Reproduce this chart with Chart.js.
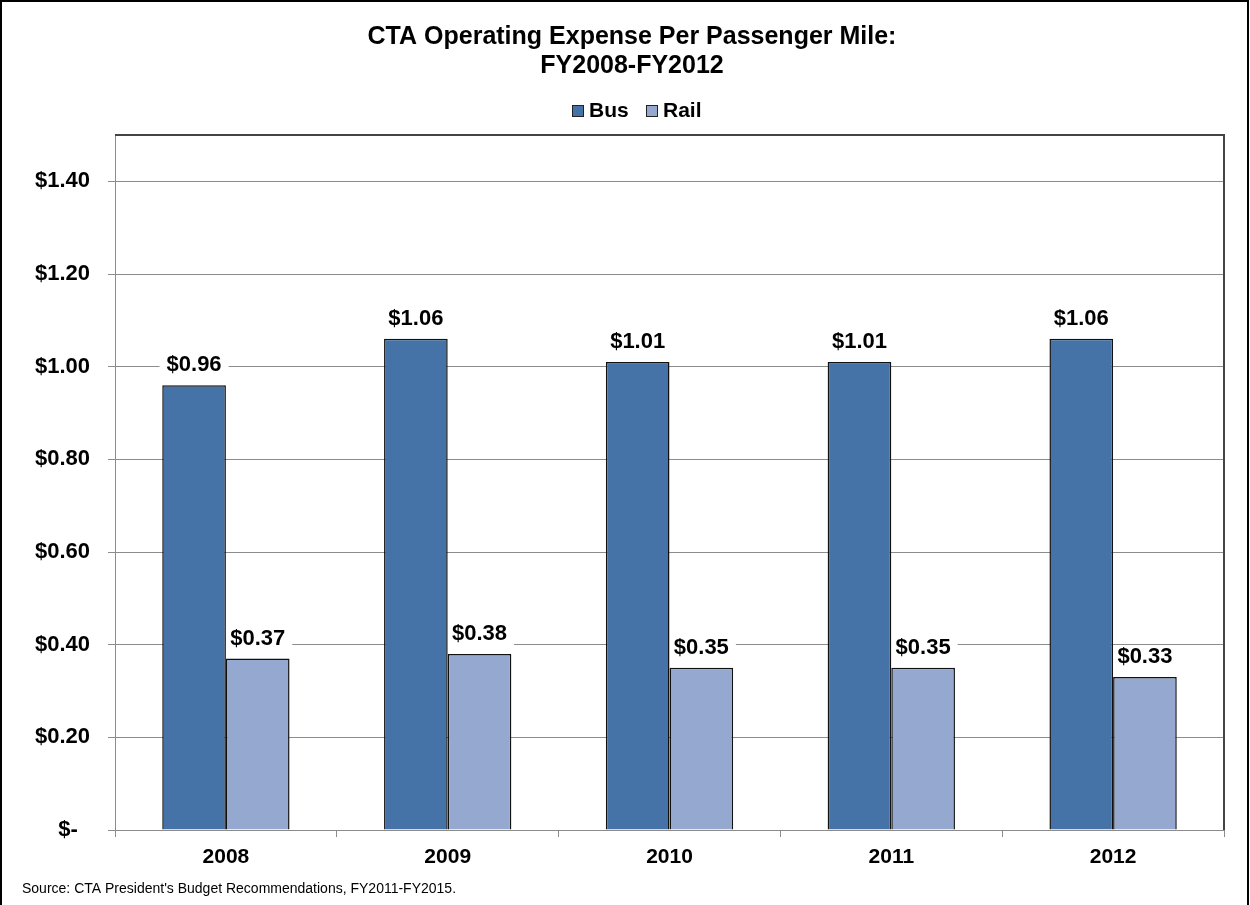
<!DOCTYPE html>
<html>
<head>
<meta charset="utf-8">
<script src="https://cdn.jsdelivr.net/npm/chart.js@4/dist/chart.umd.min.js"></script>
<style>
  html, body { margin: 0; padding: 0; background: #fff; }
  #wrap { width: 1250px; height: 905px; }
</style>
</head>
<body>
<div id="wrap"><canvas id="c" width="1250" height="905"></canvas></div>
<script>
/* CTA cost per passenger mile, FY2008-FY2012 */
const years = ['2008', '2009', '2010', '2011', '2012'];
const bus = [0.96, 1.06, 1.01, 1.01, 1.06];
const rail = [0.37, 0.38, 0.35, 0.35, 0.33];
const titleLines = ['CTA Operating Expense Per Passenger Mile:', 'FY2008-FY2012'];
const sourceNote = "Source: CTA President's Budget Recommendations, FY2011-FY2015.";

const FONT = '"Liberation Sans", Arial, sans-serif';
const BUS_COL = '#4573a7';
const RAIL_COL = '#95a9d0';
const GRID = '#8c8c8c';
const money = v => Math.abs(v) < 1e-9 ? '$-  ' : '$' + v.toFixed(2);

// title, legend, source note, outer frame, plot frame
const decor = {
  id: 'decor',
  afterDraw(chart) {
    const ctx = chart.ctx, a = chart.chartArea;
    ctx.save();
    ctx.fillStyle = '#000';
    ctx.textAlign = 'center';
    ctx.textBaseline = 'middle';
    ctx.font = 'bold 25px ' + FONT;
    ctx.fillText(titleLines[0], 632, 37);
    ctx.fillText(titleLines[1], 632, 66);

    // legend
    ctx.font = 'bold 21px ' + FONT;
    ctx.textAlign = 'left';
    const items = [['Bus', BUS_COL, 572], ['Rail', RAIL_COL, 646]];
    items.forEach(([txt, col, x]) => {
      ctx.fillStyle = col;
      ctx.fillRect(x, 105, 12, 12);
      ctx.strokeStyle = '#222';
      ctx.lineWidth = 1;
      ctx.strokeRect(x + 0.5, 105.5, 11, 11);
      ctx.fillStyle = '#000';
      ctx.fillText(txt, x + 17, 111);
    });

    ctx.font = '14px ' + FONT;
    ctx.fillText(sourceNote, 22, 889);

    // plot area top and right edges
    ctx.strokeStyle = '#444';
    ctx.lineWidth = 2;
    ctx.beginPath();
    ctx.moveTo(a.left, a.top);
    ctx.lineTo(a.right, a.top);
    ctx.lineTo(a.right, a.bottom);
    ctx.stroke();

    // outer frame
    ctx.strokeStyle = '#000';
    ctx.lineWidth = 2;
    ctx.beginPath();
    ctx.moveTo(1, 905);
    ctx.lineTo(1, 1);
    ctx.lineTo(1248, 1);
    ctx.lineTo(1248, 905);
    ctx.stroke();
    ctx.restore();
  }
};

// value labels above the bars: white patch under the bars (hides gridlines), text on top
const valueLabels = {
  id: 'valueLabels',
  each(chart, fn) {
    const ctx = chart.ctx;
    ctx.save();
    ctx.font = 'bold 22px ' + FONT;
    ctx.textAlign = 'center';
    ctx.textBaseline = 'middle';
    chart.data.datasets.forEach((ds, i) => {
      chart.getDatasetMeta(i).data.forEach((bar, j) => {
        const txt = money(ds.data[j]);
        fn(ctx, txt, bar.x, bar.y - 20, ctx.measureText(txt).width);
      });
    });
    ctx.restore();
  },
  beforeDatasetsDraw(chart) {
    this.each(chart, (ctx, txt, x, y, w) => {
      ctx.fillStyle = '#fff';
      ctx.fillRect(x - w / 2 - 7, y - 12, w + 14, 24);
    });
  },
  afterDatasetsDraw(chart) {
    this.each(chart, (ctx, txt, x, y) => {
      ctx.fillStyle = '#000';
      ctx.fillText(txt, x, y);
    });
  }
};

new Chart(document.getElementById('c'), {
  type: 'bar',
  data: {
    labels: years,
    datasets: [
      { label: 'Bus', data: bus, backgroundColor: BUS_COL, borderColor: '#111', borderWidth: 1.5 },
      { label: 'Rail', data: rail, backgroundColor: RAIL_COL, borderColor: '#111', borderWidth: 1.5 },
    ],
  },
  options: {
    responsive: false,
    animation: false,
    devicePixelRatio: 1,
    layout: { padding: { top: 135, right: 26, left: 0, bottom: 0 } },
    datasets: { bar: { barPercentage: 1, categoryPercentage: 0.574, borderSkipped: 'bottom' } },
    plugins: { legend: { display: false }, title: { display: false }, tooltip: { enabled: false } },
    scales: {
      x: {
        afterFit: s => { s.height = 75; },
        grid: { offset: true, drawOnChartArea: false, color: GRID, tickLength: 7 },
        border: { color: GRID, width: 1 },
        ticks: { color: '#000', font: { family: FONT, size: 21, weight: 'bold' }, padding: 8 },
      },
      y: {
        min: 0, max: 1.5,
        afterFit: s => { s.width = 115; },
        afterBuildTicks: s => { s.ticks = s.ticks.filter(t => t.value <= 1.4 + 1e-9); },
        grid: { color: GRID, tickLength: 7 },
        border: { color: GRID, width: 1 },
        ticks: {
          stepSize: 0.2,
          color: '#000',
          padding: 18,
          font: { family: FONT, size: 22, weight: 'bold' },
          callback: v => money(v),
        },
      },
    },
  },
  plugins: [valueLabels, decor],
});
</script>
</body>
</html>
